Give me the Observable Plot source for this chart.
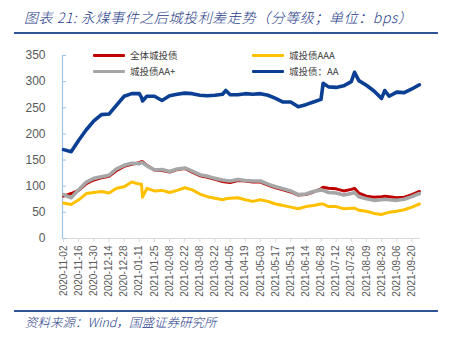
<!DOCTYPE html>
<html><head><meta charset="utf-8">
<script src="https://cdn.jsdelivr.net/npm/d3@7"></script>
<script src="https://cdn.jsdelivr.net/npm/@observablehq/plot@0.6"></script>
<style>
body{margin:0;background:#fff;}
#wrap{position:relative;width:453px;height:342px;overflow:hidden;font-family:"Noto Sans CJK SC",sans-serif;}
#title{position:absolute;left:24px;top:8px;font-size:14px;letter-spacing:0.6px;font-weight:300;font-style:italic;color:#1F3C88;white-space:nowrap;line-height:18px;}
.rule{position:absolute;left:14px;width:424px;height:2px;background:#2F5597;}
#chart{position:absolute;left:0;top:40px;}
#legend{position:absolute;left:0;top:0;width:453px;height:80px;}
.lg{position:absolute;display:flex;align-items:center;font-size:9.5px;color:#404040;white-space:nowrap;}
.sw{width:32px;height:3px;margin-right:5px;border-radius:1px;}
#source{position:absolute;left:25px;top:313px;font-size:12.5px;font-weight:300;font-style:italic;color:#1F3C88;white-space:nowrap;line-height:18px;}
</style></head>
<body>
<div id="wrap">
  <div id="title">图表 21:  永煤事件之后城投利差走势（分等级；单位：bps）</div>
  <div class="rule" style="top:32px"></div>
  <div id="chart"></div>
  <div id="legend"></div>
  <div class="rule" style="top:310px"></div>
  <div id="source">资料来源：Wind，国盛证券研究所</div>
</div>
<script>
const dates = ["2020-11-02","2020-11-09","2020-11-16","2020-11-23","2020-11-30","2020-12-07","2020-12-14","2020-12-21","2020-12-28","2021-01-04","2021-01-11","2021-01-13","2021-01-14","2021-01-18","2021-01-25","2021-02-01","2021-02-08","2021-02-15","2021-02-22","2021-03-01","2021-03-08","2021-03-15","2021-03-22","2021-03-29","2021-04-01","2021-04-05","2021-04-12","2021-04-19","2021-04-26","2021-05-03","2021-05-10","2021-05-17","2021-05-24","2021-05-31","2021-06-07","2021-06-14","2021-06-21","2021-06-28","2021-06-30","2021-07-05","2021-07-12","2021-07-19","2021-07-26","2021-07-29","2021-08-02","2021-08-09","2021-08-16","2021-08-23","2021-08-26","2021-08-30","2021-09-06","2021-09-13","2021-09-20","2021-09-27"];
const seriesNames = ["全体城投债","城投债AAA","城投债AA+","城投债：AA"];
const seriesColors = ["#C00000","#FFC000","#A6A6A6","#0A3F93"];
const seriesWidths = [3, 3, 3.6, 3.6];
const allLGFV = [81,86,92,105,112,116,119,130,138,142,145,147,147,140,131,130,127,132,134,127,120,117,113,109,108,107,111,110,108,108,102,97,93,89,83,84,89,95,98,96,95,91,94,96,87,81,79,80,81,80,78,79,84,90];
const aaa = [68,65,74,86,88,90,87,96,99,108,104,104,79,96,91,92,88,92,97,93,85,80,77,74,76,77,78,74,71,74,71,66,63,60,57,61,63,66,66,61,61,57,58,58,54,52,48,46,48,50,52,55,60,66];
const aaPlus = [84,78,93,108,115,118,121,133,140,144,143,145,145,139,131,132,128,133,135,129,122,119,115,112,111,110,113,111,110,110,104,99,95,91,84,85,90,93,92,88,87,83,86,88,80,76,73,74,75,74,73,75,80,86];
const aa = [170,166,188,208,225,237,238,255,272,277,277,270,263,272,272,264,273,276,278,277,274,273,274,276,283,275,275,277,276,277,274,268,261,261,252,256,261,266,297,290,289,292,300,318,302,293,282,268,283,272,280,279,286,294];
const xTicks = ["2020-11-02","2020-11-16","2020-11-30","2020-12-14","2020-12-28","2021-01-11","2021-01-25","2021-02-08","2021-02-22","2021-03-08","2021-03-22","2021-04-05","2021-04-19","2021-05-03","2021-05-17","2021-05-31","2021-06-14","2021-06-28","2021-07-12","2021-07-26","2021-08-09","2021-08-23","2021-09-06","2021-09-20"];
const yTicks = [0,50,100,150,200,250,300,350];
const xDomain = ["2020-11-01","2021-09-28"];

const parse = d3.utcParse("%Y-%m-%d");
const valueSets = [allLGFV, aaa, aaPlus, aa];
const rows = [];
seriesNames.forEach((name, si) => {
  dates.forEach((d, i) => rows.push({date: parse(d), value: valueSets[si][i], series: name}));
});
const tickDates = xTicks.map(parse);
const fmt = d3.utcFormat("%Y-%m-%d");

const chart = Plot.plot({
  width: 453,
  height: 262,
  marginLeft: 62,
  marginRight: 33,
  marginTop: 15,
  marginBottom: 64,
  style: {fontFamily: "'Liberation Sans', Arial, sans-serif", background: "transparent"},
  x: {type: "utc", domain: xDomain.map(parse)},
  y: {domain: [0, 350]},
  color: {domain: seriesNames, range: seriesColors},
  marks: [
    Plot.ruleY([0], {stroke: "#D9D9D9", strokeWidth: 1}),
    Plot.ruleX([parse(xDomain[0])], {stroke: "#9DC3E6", strokeWidth: 1.2}),
    Plot.axisY({ticks: yTicks, tickSize: 0, tickPadding: 17, fontSize: 12, color: "#595959", label: null}),
    Plot.axisY({ticks: yTicks, tickSize: -4, tickFormat: () => "", stroke: "#9DC3E6", label: null}),
    Plot.axisX({ticks: tickDates, tickFormat: fmt, tickRotate: -90, tickSize: 4, tickPadding: 3, fontSize: 10, color: "#595959", stroke: "#D9D9D9", label: null}),
    ...seriesNames.map((name, i) =>
      Plot.line(rows.filter(r => r.series === name), {x: "date", y: "value", stroke: seriesColors[i], strokeWidth: seriesWidths[i], strokeLinejoin: "round"})
    ),
  ]
});
document.getElementById("chart").appendChild(chart);

const legendPos = [[93, 48],[252, 48],[93, 64],[252, 64]];
const lg = document.getElementById("legend");
seriesNames.forEach((name, i) => {
  const el = document.createElement("div");
  el.className = "lg";
  el.style.left = legendPos[i][0] + "px";
  el.style.top = legendPos[i][1] + "px";
  el.innerHTML = `<div class="sw" style="background:${seriesColors[i]}"></div><span>${name}</span>`;
  lg.appendChild(el);
});
</script>
</body></html>
